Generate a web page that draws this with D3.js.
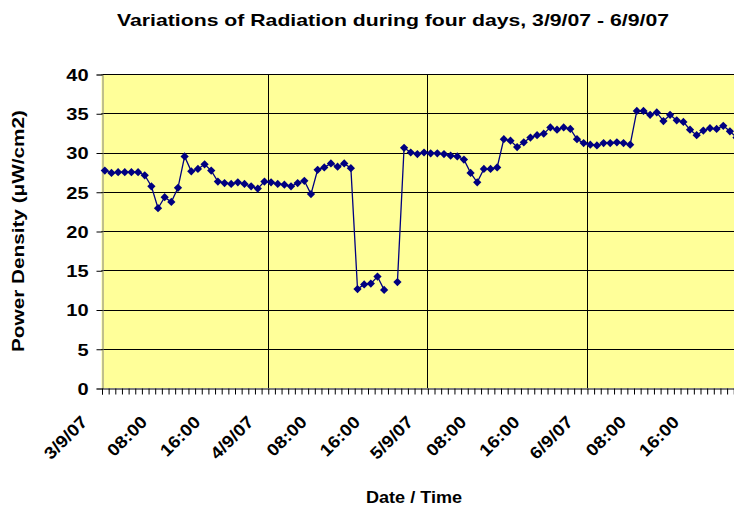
<!DOCTYPE html>
<html>
<head>
<meta charset="utf-8">
<script src="https://cdn.jsdelivr.net/npm/d3@7"></script>
<style>
    body { margin: 0; background: #fff; }
    svg { display: block; font-family: "Liberation Sans", Arial, sans-serif; font-weight: bold; }
</style>
</head>
<body>
<svg id="chart" width="734" height="508"></svg>
<script>
// hourly readings, 3/9/07 - 6/9/07 (one missing reading at index 43)
var values = [
    27.7, 27.4, 27.5, 27.5, 27.5, 27.5, 27.1, 25.7, 22.9, 24.3, 23.7, 25.5,
    29.5, 27.6, 27.9, 28.5, 27.7, 26.3, 26.1, 26.0, 26.2, 26.0, 25.7, 25.4,
    26.3, 26.2, 26.0, 25.9, 25.7, 26.1, 26.4, 24.7, 27.8, 28.1, 28.6, 28.2,
    28.6, 28.0, 12.6, 13.2, 13.3, 14.2, 12.5, null, 13.5, 30.6, 30.0, 29.8,
    30.0, 29.9, 29.9, 29.8, 29.6, 29.5, 29.1, 27.4, 26.2, 27.9, 27.9, 28.1,
    31.7, 31.5, 30.7, 31.3, 31.9, 32.2, 32.4, 33.2, 32.9, 33.2, 33.0, 31.7,
    31.2, 31.0, 30.9, 31.2, 31.2, 31.3, 31.2, 31.0, 35.3, 35.3, 34.8, 35.1,
    34.0, 34.8, 34.1, 33.9, 32.9, 32.2, 32.8, 33.1, 33.0, 33.4, 32.7, 31.9
];

var tickLabels = ['3/9/07', '08:00', '16:00', '4/9/07', '08:00', '16:00',
    '5/9/07', '08:00', '16:00', '6/9/07', '08:00', '16:00'];
var tickIndex = [0, 9, 17, 25, 33, 41, 49, 57, 65, 73, 81, 89];
var dayIndex = [25, 49, 73];
var yTicks = [0, 5, 10, 15, 20, 25, 30, 35, 40];

var plotLeft = 101.5, plotTop = 74, plotBottom = 388, step = 6.65;
var plotRight = plotLeft + values.length * step;

var svg = d3.select('#chart');

// category boundaries -> pixels, points sit in the middle of each category
var x = d3.scaleLinear().domain([0, values.length]).range([plotLeft, plotRight]);
var y = d3.scaleLinear().domain([0, 40]).range([plotBottom, plotTop]);

function cx(i) { return x(i + 0.5); }

// the original chart uses a wide bold face; stretch text horizontally
function widen(sel, k) {
    sel.each(function () {
        var w = this.getComputedTextLength();
        d3.select(this)
            .attr('textLength', w * k)
            .attr('lengthAdjust', 'spacingAndGlyphs');
    });
}

function fitTo(sel, w) {
    sel.attr('textLength', w).attr('lengthAdjust', 'spacingAndGlyphs');
}

// plot area
svg.append('rect')
    .attr('x', plotLeft).attr('y', plotTop)
    .attr('width', plotRight - plotLeft).attr('height', plotBottom - plotTop)
    .style('fill', '#FFFF99');

// horizontal gridlines
svg.selectAll('.hgrid')
    .data(yTicks.slice(1))
    .enter().append('line')
    .attr('x1', plotLeft).attr('x2', plotRight)
    .attr('y1', function (d) { return Math.round(y(d)) + 0.5 })
    .attr('y2', function (d) { return Math.round(y(d)) + 0.5 })
    .style('stroke', '#000')
    .style('stroke-width', 1);

// day separators
svg.selectAll('.vgrid')
    .data(dayIndex)
    .enter().append('line')
    .attr('x1', function (d) { return Math.round(x(d)) + 0.5 })
    .attr('x2', function (d) { return Math.round(x(d)) + 0.5 })
    .attr('y1', plotTop).attr('y2', plotBottom)
    .style('stroke', '#000')
    .style('stroke-width', 1);

// y axis
var yAxis = svg.append('g')
    .attr('transform', 'translate(' + (Math.round(plotLeft) + 0.5) + ',0.5)')
    .call(d3.axisLeft(y).tickValues(yTicks).tickSize(6).tickPadding(8).tickFormat(d3.format('d')));
yAxis.select('.domain').style('stroke', '#808080');
yAxis.selectAll('.tick line').style('stroke', '#000');
yAxis.selectAll('text')
    .attr('dy', '0.36em')
    .style('font-size', '16px')
    .style('font-family', '"Liberation Sans", Arial, sans-serif')
    .style('font-weight', 'bold')
    .style('fill', '#000')
    .call(widen, 1.25);

// x axis, small tick at every category boundary
var xAxis = svg.append('g')
    .attr('transform', 'translate(0.5,' + (Math.round(plotBottom) + 0.5) + ')')
    .call(d3.axisBottom(x).tickValues(d3.range(0, values.length + 1)).tickSize(6).tickFormat(''));
xAxis.select('.domain').style('stroke', '#000');
xAxis.selectAll('.tick line').style('stroke', '#000');

// rotated category labels
svg.selectAll('.xlab')
    .data(tickIndex)
    .enter().append('text')
    .attr('transform', function (d) {
        return 'translate(' + (x(d) - 13) + ',' + (plotBottom + 35) + ') rotate(-45)'
    })
    .attr('text-anchor', 'end')
    .style('font-size', '17px')
    .text(function (d, i) { return tickLabels[i] })
    .call(widen, 1.12);

// series line, broken at missing value
var line = d3.line()
    .defined(function (d) { return d !== null })
    .x(function (d, i) { return cx(i) })
    .y(function (d) { return y(d) });

svg.append('path')
    .datum(values)
    .attr('d', line)
    .style('fill', 'none')
    .style('stroke', '#000080')
    .style('stroke-width', 1.3);

svg.selectAll('.dot')
    .data(values.map(function (v, i) { return {i: i, v: v} }).filter(function (d) { return d.v !== null }))
    .enter().append('path')
    .attr('d', d3.symbol(d3.symbolSquare, 34))
    .attr('transform', function (d) {
        return 'translate(' + cx(d.i) + ',' + y(d.v) + ') rotate(45)'
    })
    .style('fill', '#000080');

// titles
svg.append('text')
    .attr('x', 393).attr('y', 26)
    .attr('text-anchor', 'middle')
    .style('font-size', '17px')
    .text('Variations of Radiation during four days, 3/9/07 - 6/9/07')
    .call(fitTo, 552);

svg.append('text')
    .attr('transform', 'translate(24,231) rotate(-90)')
    .attr('text-anchor', 'middle')
    .style('font-size', '16px')
    .text('Power Density (\u03bcW/cm2)')
    .call(fitTo, 242);

svg.append('text')
    .attr('x', 414).attr('y', 503)
    .attr('text-anchor', 'middle')
    .style('font-size', '16px')
    .text('Date / Time')
    .call(fitTo, 96);
</script>
</body>
</html>
